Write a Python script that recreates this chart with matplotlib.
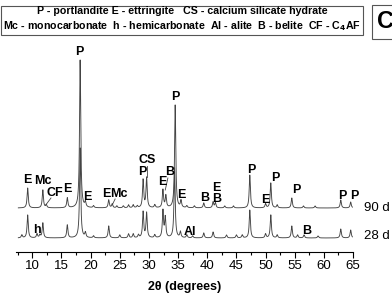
"""
XRD patterns of cement paste at 28 d and 90 d (panel C).
"""

import numpy as np
import matplotlib.pyplot as plt

plt.rcParams["font.family"] = ["Liberation Sans", "DejaVu Sans"]
plt.rcParams["font.weight"] = "bold"

# Peak positions (2theta, deg) and heights (arbitrary counts)
PEAKS_90D_POS = [9.2, 11.8, 12.4, 16.0, 18.2, 19.1, 20.5, 23.1, 23.7, 24.5, 25.6,
                 26.5, 27.3, 28.0, 29.0, 29.6, 31.0, 32.4, 32.9, 34.5, 35.5,
                 36.5, 37.8, 39.4, 41.0, 41.4, 43.0, 44.5, 47.3, 50.0, 50.9,
                 52.0, 54.5, 56.5, 58.5, 62.9, 64.6]
PEAKS_90D_H = [20, 18, 3, 10, 148, 5, 2, 8, 4, 2, 2,
               3, 3, 2, 28, 30, 3, 18, 12, 103, 7,
               2, 2, 5, 6, 5, 2, 2, 33, 4, 25,
               3, 10, 2, 2, 8, 6]

PEAKS_28D_POS = [8.2, 9.2, 10.8, 11.3, 11.8, 16.0, 18.2, 19.1, 20.5, 23.1,
                 25.0, 26.5, 27.3, 28.2, 29.0, 29.6, 31.0, 32.4, 32.8, 34.4,
                 35.4, 36.5, 37.5, 39.4, 41.0, 43.3, 45.0, 46.0, 47.3, 50.0,
                 50.9, 52.0, 54.5, 55.5, 56.6, 59.0, 62.9, 64.6]
PEAKS_28D_H = [3, 23, 4, 3, 15, 13, 90, 5, 2, 12,
               3, 4, 4, 3, 26, 25, 3, 27, 20, 70,
               6, 3, 2, 5, 6, 3, 3, 3, 28, 4,
               23, 3, 12, 3, 3, 2, 9, 8]

BASE_90D = 44
BASE_28D = 14

# peak labels: (text, 2theta, y)
LABELS = [
    ("E", 9.14, 72), ("Mc", 11.75, 71), ("CF", 13.9, 59), ("E", 16.0, 63),
    ("P", 18.1, 200), ("E", 19.45, 55), ("E", 22.65, 58), ("Mc", 24.85, 58),
    ("P", 28.9, 80), ("CS", 29.75, 92), ("E", 32.3, 70), ("B", 33.5, 80),
    ("P", 34.57, 155), ("E", 35.6, 57), ("B", 39.55, 54), ("E", 41.6, 64),
    ("B", 41.6, 53), ("P", 47.6, 82), ("E", 50.0, 52), ("P", 51.6, 74),
    ("P", 55.2, 62), ("P", 63.1, 56), ("P", 65.15, 56),
    ("h", 10.86, 22), ("Al", 37.0, 20), ("B", 57.1, 21),
]
# leader lines: (x0, y0, x1, y1)
LEADERS = [
    (12.3, 47, 13.2, 54),
    (23.7, 47, 24.2, 53),
    (29.65, 75, 29.65, 86),
    (32.8, 62, 33.25, 74),
]
SERIES_NAMES = ["90 d", "28 d"]


def profile(x, pos, h, base, w=0.12):
    y = np.full_like(x, float(base))
    for p, a in zip(pos, h):
        y += a / (1 + ((x - p) / w) ** 2)
    return y


x = np.linspace(7.6, 64.9, 4000)
y90 = profile(x, PEAKS_90D_POS, PEAKS_90D_H, BASE_90D)
y28 = profile(x, PEAKS_28D_POS, PEAKS_28D_H, BASE_28D)

fig = plt.figure(figsize=(3.92, 2.98), dpi=100)
ax = fig.add_axes([16 / 392, 46 / 298, 337 / 392, 202 / 298])

ax.plot(x, y28, color="#444444", lw=0.65)
ax.plot(x, y90, color="#444444", lw=0.65)

for t, lx, ly in LABELS:
    ax.text(lx, ly, t, ha="center", va="center", fontsize=9, fontweight="bold",
            clip_on=False)
for x0, y0, x1, y1 in LEADERS:
    ax.plot([x0, x1], [y0, y1], color="#444444", lw=0.6)

ax.text(66.9, BASE_90D, SERIES_NAMES[0], ha="left", va="center", fontsize=9.5,
        fontweight="normal")
ax.text(66.9, BASE_28D + 2, SERIES_NAMES[1], ha="left", va="center", fontsize=9.5,
        fontweight="normal")

ax.set_xlim(7.2, 65)
ax.set_ylim(0, 202)
for s in ["left", "right", "top"]:
    ax.spines[s].set_visible(False)
ax.spines["bottom"].set_linewidth(0.8)
ax.set_yticks([])
ax.set_xticks(np.arange(10, 66, 5))
ax.set_xticks(np.arange(7.5, 65.1, 2.5), minor=True)
ax.tick_params(axis="x", which="major", length=4, width=0.8, labelsize=9.5, pad=2)
ax.tick_params(axis="x", which="minor", length=2.5, width=0.8)
for lab in ax.get_xticklabels():
    lab.set_fontweight("normal")
ax.set_xlabel("2θ (degrees)", fontsize=9, fontweight="bold", labelpad=6)

# legend box
fig.text(182 / 392, 1 - 19.5 / 298,
         "P - portlandite E - ettringite   CS - calcium silicate hydrate\n"
         "Mc - monocarbonate  h - hemicarbonate  Al - alite  B - belite  CF - C$_4$AF",
         ha="center", va="center", fontsize=7.7, fontweight="bold", linespacing=1.25,
         bbox=dict(boxstyle="square,pad=0.2", fc="white", ec="#555555", lw=0.8))
fig.text(386 / 392, 1 - 22 / 298, "C", ha="center", va="center", fontsize=17,
         fontweight="bold",
         bbox=dict(boxstyle="square,pad=0.25", fc="white", ec="#555555", lw=0.8))

fig.savefig("out.png", dpi=100)
